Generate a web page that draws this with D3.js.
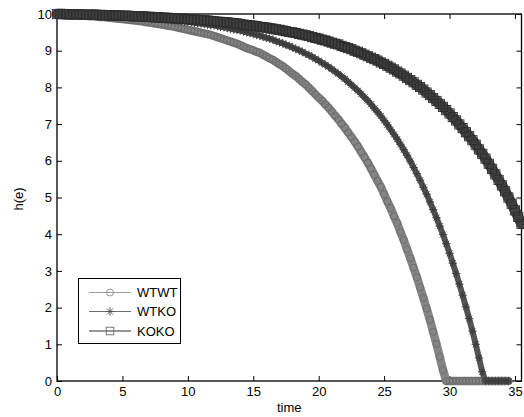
<!DOCTYPE html>
<html><head><meta charset="utf-8">
<script src="https://cdn.jsdelivr.net/npm/d3@7"></script>
<style>
body{margin:0;background:#fff}
svg{display:block}
text{font-family:"Liberation Sans",Arial,Helvetica,sans-serif;font-size:13px;fill:#000}
</style>
</head><body><svg id="c" width="524" height="417"></svg>
<script>
// sampling times (every 0.25)
const time = d3.range(0, 35.5001, 0.25);
const seriesNames = ["WTWT", "WTKO", "KOKO"];

const wtwt = [
10.00,10.00,9.99,9.99,9.98,9.97,9.97,9.96,9.96,9.95,9.94,9.94,9.93,9.92,9.92,9.91,9.90,9.89,9.88,9.87,
9.86,9.85,9.84,9.83,9.82,9.81,9.80,9.78,9.77,9.76,9.74,9.73,9.71,9.70,9.68,9.67,9.65,9.63,9.61,9.59,
9.57,9.55,9.53,9.51,9.49,9.47,9.45,9.43,9.40,9.37,9.34,9.31,9.28,9.25,9.22,9.19,9.15,9.11,9.07,9.04,
9.01,8.97,8.94,8.89,8.84,8.79,8.75,8.69,8.63,8.58,8.51,8.44,8.37,8.31,8.23,8.15,8.08,7.99,7.90,7.81,
7.72,7.64,7.54,7.45,7.34,7.23,7.13,7.01,6.90,6.77,6.65,6.52,6.39,6.24,6.10,5.95,5.79,5.62,5.45,5.29,
5.09,4.89,4.71,4.49,4.30,4.06,3.84,3.59,3.35,3.09,2.83,2.55,2.27,1.97,1.67,1.34,1.01,0.66,0.30,0,
0,0,0,0,0,0,0,0,0,0,0,0,0,0,0,0,0,0,0];

const wtko = [
10.00,10.00,10.00,9.99,9.99,9.99,9.99,9.98,9.98,9.98,9.97,9.97,9.97,9.96,9.96,9.96,9.95,9.95,9.94,9.94,
9.93,9.93,9.92,9.92,9.91,9.91,9.90,9.89,9.89,9.88,9.87,9.87,9.86,9.85,9.84,9.83,9.83,9.82,9.81,9.80,
9.79,9.78,9.76,9.75,9.74,9.73,9.71,9.70,9.69,9.67,9.65,9.64,9.62,9.60,9.58,9.57,9.55,9.53,9.50,9.48,
9.46,9.43,9.41,9.38,9.35,9.33,9.30,9.26,9.23,9.20,9.16,9.13,9.09,9.05,9.01,8.97,8.92,8.88,8.83,8.78,
8.73,8.67,8.62,8.56,8.50,8.43,8.37,8.30,8.23,8.15,8.07,7.99,7.91,7.82,7.73,7.64,7.54,7.43,7.33,7.22,
7.10,6.98,6.85,6.72,6.59,6.45,6.30,6.15,5.99,5.82,5.65,5.47,5.28,5.09,4.88,4.67,4.45,4.22,3.99,3.74,
3.48,3.21,2.93,2.64,2.34,2.02,1.70,1.36,1.00,0.63,0.25,0,0,0,0,0,0,0,0];

const koko = [
10.00,10.00,10.00,9.99,9.99,9.99,9.99,9.99,9.98,9.98,9.98,9.98,9.98,9.97,9.97,9.97,9.96,9.96,9.96,9.96,
9.95,9.95,9.95,9.94,9.94,9.94,9.93,9.93,9.92,9.92,9.91,9.91,9.90,9.90,9.89,9.89,9.88,9.88,9.87,9.87,
9.86,9.85,9.85,9.84,9.83,9.83,9.82,9.81,9.80,9.79,9.78,9.78,9.77,9.76,9.75,9.74,9.73,9.71,9.70,9.69,
9.68,9.67,9.65,9.64,9.63,9.61,9.60,9.58,9.57,9.55,9.53,9.51,9.50,9.48,9.46,9.44,9.42,9.40,9.37,9.35,
9.33,9.30,9.28,9.25,9.22,9.19,9.17,9.13,9.10,9.07,9.04,9.00,8.97,8.93,8.89,8.85,8.81,8.77,8.73,8.68,
8.64,8.59,8.54,8.49,8.43,8.38,8.32,8.26,8.20,8.14,8.07,8.01,7.94,7.86,7.79,7.71,7.63,7.55,7.47,7.38,
7.29,7.19,7.10,6.99,6.89,6.78,6.67,6.56,6.44,6.31,6.19,6.06,5.92,5.78,5.63,5.48,5.33,5.17,5.00,4.83,
4.65,4.47,4.28];

const xTicks = [0, 5, 10, 15, 20, 25, 30, 35];
const yTicks = [0, 1, 2, 3, 4, 5, 6, 7, 8, 9, 10];
const xLabel = "time";
const yLabel = "h(e)";

const bandColors = ["#858585", "#545454", "#404040"];
const bandWidths = [8.5, 6, 10.5];
const markerColors = ["#6a6a6a", "#3a3a3a", "#2e2e2e"];
const legendLineColors = ["#a0a0a0", "#6e6e6e", "#303030"];
const legendMarkerColors = ["#8a8a8a", "#4e4e4e", "#6a6a6a"];
const markerTypes = ["circle", "star", "square"];

const svg = d3.select("#c");
svg.append("rect").attr("width", 524).attr("height", 417).attr("fill", "#fff");

const x = d3.scaleLinear().domain([0, 35.5]).range([57, 521.5]);
const y = d3.scaleLinear().domain([0, 10]).range([381, 14]);

// axes (ticks inward, MATLAB-style box)
const gx = svg.append("g").attr("transform", "translate(0,381)")
  .call(d3.axisBottom(x).tickValues(xTicks).tickSizeInner(-5).tickSizeOuter(0).tickPadding(6));
const gy = svg.append("g").attr("transform", "translate(57,0)")
  .call(d3.axisLeft(y).tickValues(yTicks).tickSizeInner(-5).tickSizeOuter(0).tickPadding(5));
const gt = svg.append("g").attr("transform", "translate(0,14)")
  .call(d3.axisTop(x).tickValues(xTicks).tickSizeInner(-5).tickSizeOuter(0).tickFormat(""));
const gr = svg.append("g").attr("transform", "translate(521.5,0)")
  .call(d3.axisRight(y).tickValues(yTicks).tickSizeInner(-5).tickSizeOuter(0).tickFormat(""));
[gx, gy, gt, gr].forEach(g => {
  g.select(".domain").remove();
  g.selectAll("line").attr("stroke", "#000");
  g.selectAll("text").attr("font-size", 13).attr("font-family", "Liberation Sans, Arial, sans-serif").attr("fill", "#000");
});
svg.append("rect").attr("x", 57).attr("y", 14).attr("width", 521.5 - 57).attr("height", 381 - 14)
  .attr("fill", "none").attr("stroke", "#000").attr("stroke-width", 1.3);

svg.append("text").attr("x", x(17.75)).attr("y", 412).attr("text-anchor", "middle").text(xLabel);
svg.append("text").attr("transform", "translate(23,199) rotate(-90)").attr("text-anchor", "middle").text(yLabel);

function drawMarker(g, type, cx, cy, color, big) {
  if (type === "circle") {
    g.append("circle").attr("cx", cx).attr("cy", cy).attr("r", 3.5)
      .attr("fill", "none").attr("stroke", color).attr("stroke-width", 0.9);
  } else if (type === "square") {
    const h = big ? 4.6 : 3.8;
    g.append("rect").attr("x", cx - h).attr("y", cy - h).attr("width", 2 * h).attr("height", 2 * h)
      .attr("fill", "none").attr("stroke", color).attr("stroke-width", 0.9);
  } else {
    const s = 4.2, k = 3;
    g.append("path")
      .attr("d", `M${cx - s},${cy}H${cx + s}M${cx},${cy - s}V${cy + s}M${cx - k},${cy - k}L${cx + k},${cy + k}M${cx - k},${cy + k}L${cx + k},${cy - k}`)
      .attr("stroke", color).attr("stroke-width", 0.9).attr("fill", "none");
  }
}

const data = [wtwt, wtko, koko];
const line = d3.line().x((d, i) => x(time[i])).y(d => y(d));
data.forEach((vals, si) => {
  const g = svg.append("g");
  // dense band formed by the heavily overlapping markers
  g.append("path").attr("d", line(vals)).attr("fill", "none").attr("stroke", bandColors[si])
    .attr("stroke-width", bandWidths[si]).attr("stroke-linejoin", "round").attr("stroke-linecap", "round");
  vals.forEach((v, i) => drawMarker(g, markerTypes[si], x(time[i]), y(v), markerColors[si], true));
});

// legend
const lg = svg.append("g");
lg.append("rect").attr("x", 78.5).attr("y", 278.5).attr("width", 102).attr("height", 65)
  .attr("fill", "#fff").attr("stroke", "#000").attr("stroke-width", 1);
const legY = [292.5, 311.5, 331];
seriesNames.forEach((name, i) => {
  lg.append("line").attr("x1", 89).attr("x2", 131).attr("y1", legY[i]).attr("y2", legY[i])
    .attr("stroke", legendLineColors[i]).attr("stroke-width", 1);
  drawMarker(lg, markerTypes[i], 110, legY[i], legendMarkerColors[i], false);
  lg.append("text").attr("x", 137).attr("y", legY[i]).attr("dy", "0.36em").text(name);
});
</script>
</body></html>
